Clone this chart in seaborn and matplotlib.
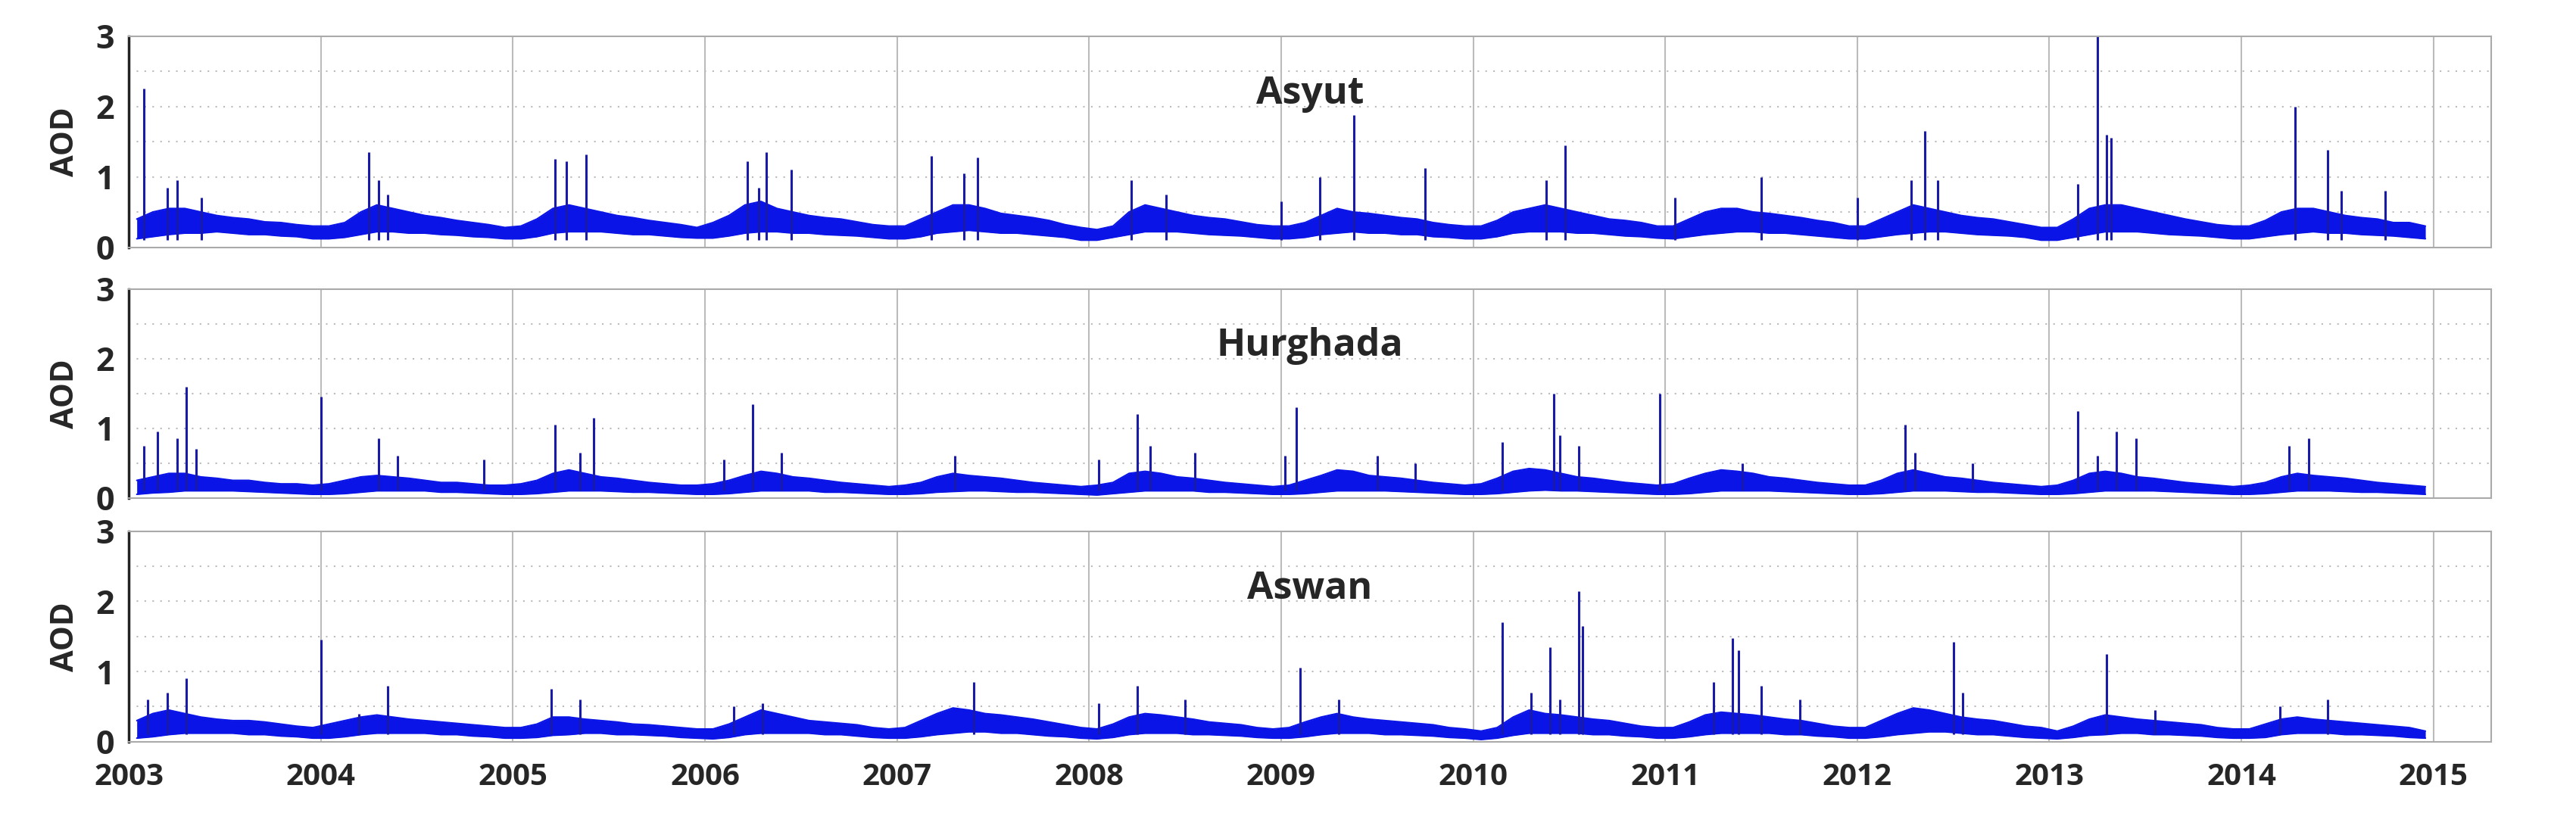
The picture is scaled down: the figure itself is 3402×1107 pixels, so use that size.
import numpy as np
import pandas as pd
import matplotlib.pyplot as plt
import seaborn as sns

sns.set_theme(style="white")
plt.rcParams["font.family"] = ["Open Sans", "DejaVu Sans"]

# ---- monthly typical AOD range (low / high), 2003..2014, 12 values per year ----
asyut_lo = [
    [.12, .15, .18, .20, .20, .22, .20, .18, .18, .16, .15, .12],
    [.12, .14, .18, .22, .22, .20, .20, .18, .17, .15, .14, .12],
    [.12, .15, .20, .22, .22, .22, .20, .18, .18, .16, .14, .13],
    [.13, .16, .20, .22, .22, .20, .20, .18, .17, .16, .14, .12],
    [.12, .15, .20, .22, .24, .22, .20, .20, .18, .16, .14, .10],
    [.10, .14, .18, .22, .22, .22, .20, .18, .17, .16, .14, .12],
    [.12, .14, .18, .20, .22, .20, .20, .18, .18, .15, .14, .12],
    [.12, .15, .20, .22, .22, .22, .20, .20, .18, .16, .15, .13],
    [.12, .15, .18, .20, .22, .22, .20, .20, .18, .16, .14, .12],
    [.12, .15, .18, .20, .22, .22, .20, .18, .17, .16, .14, .10],
    [.10, .14, .18, .22, .22, .22, .20, .18, .17, .16, .14, .12],
    [.12, .15, .18, .20, .22, .20, .20, .18, .17, .16, .14, .12],
]
asyut_hi = [
    [.40, .50, .55, .55, .50, .45, .42, .40, .36, .35, .32, .30],
    [.30, .35, .50, .60, .55, .50, .45, .42, .38, .35, .32, .28],
    [.30, .40, .55, .60, .55, .50, .45, .42, .38, .35, .32, .28],
    [.35, .45, .60, .65, .55, .50, .45, .42, .40, .36, .32, .30],
    [.30, .40, .50, .60, .60, .55, .48, .45, .42, .38, .32, .28],
    [.25, .30, .50, .60, .55, .50, .45, .42, .40, .36, .32, .30],
    [.30, .35, .45, .55, .50, .48, .45, .42, .40, .35, .32, .30],
    [.30, .38, .50, .55, .60, .55, .50, .45, .40, .38, .35, .30],
    [.30, .40, .50, .55, .55, .50, .48, .45, .42, .38, .35, .30],
    [.30, .40, .50, .60, .55, .50, .45, .42, .40, .36, .32, .28],
    [.28, .40, .55, .60, .60, .55, .50, .45, .40, .36, .32, .30],
    [.30, .38, .50, .55, .55, .50, .45, .42, .40, .35, .35, .30],
]
hurg_lo = [
    [.05, .07, .08, .10, .10, .10, .10, .09, .08, .07, .06, .05],
    [.05, .06, .08, .10, .10, .10, .10, .08, .08, .07, .06, .05],
    [.05, .06, .08, .10, .10, .10, .09, .08, .08, .07, .06, .05],
    [.05, .06, .08, .10, .10, .10, .10, .08, .08, .07, .06, .05],
    [.05, .06, .08, .09, .10, .10, .09, .08, .08, .07, .06, .05],
    [.04, .06, .08, .10, .10, .10, .10, .08, .08, .07, .06, .05],
    [.05, .06, .08, .10, .10, .10, .10, .09, .08, .07, .06, .05],
    [.05, .06, .08, .10, .11, .10, .10, .09, .08, .07, .06, .05],
    [.05, .06, .08, .10, .10, .10, .10, .09, .08, .07, .06, .05],
    [.05, .06, .08, .10, .10, .10, .09, .08, .08, .07, .06, .05],
    [.05, .06, .08, .10, .10, .10, .10, .09, .08, .07, .06, .05],
    [.05, .06, .08, .10, .10, .10, .09, .08, .08, .07, .06, .05],
]
hurg_hi = [
    [.25, .30, .35, .35, .30, .28, .25, .25, .22, .20, .20, .18],
    [.20, .25, .30, .32, .30, .28, .25, .22, .22, .20, .18, .18],
    [.20, .25, .35, .40, .35, .30, .28, .25, .22, .20, .18, .18],
    [.20, .25, .32, .38, .35, .30, .28, .25, .22, .20, .18, .16],
    [.18, .22, .30, .35, .32, .30, .28, .25, .22, .20, .18, .16],
    [.18, .22, .35, .38, .35, .30, .28, .25, .22, .20, .18, .16],
    [.18, .25, .32, .40, .38, .32, .30, .28, .25, .22, .20, .18],
    [.20, .28, .38, .42, .40, .35, .30, .28, .25, .22, .20, .18],
    [.20, .28, .35, .40, .38, .35, .30, .28, .25, .22, .20, .18],
    [.18, .25, .35, .40, .35, .30, .28, .25, .22, .20, .18, .16],
    [.18, .25, .35, .38, .35, .30, .28, .25, .22, .20, .18, .16],
    [.18, .22, .30, .35, .32, .30, .28, .25, .22, .20, .18, .16],
]
aswan_lo = [
    [.05, .07, .10, .12, .12, .12, .12, .10, .10, .08, .07, .05],
    [.05, .07, .10, .12, .12, .12, .12, .10, .10, .08, .07, .05],
    [.05, .06, .09, .10, .12, .12, .10, .10, .09, .08, .06, .05],
    [.04, .06, .10, .12, .12, .12, .12, .10, .10, .08, .06, .05],
    [.05, .07, .10, .12, .14, .14, .12, .12, .10, .08, .07, .05],
    [.04, .06, .10, .12, .12, .12, .10, .10, .09, .08, .06, .05],
    [.05, .07, .10, .12, .12, .12, .10, .10, .09, .08, .06, .05],
    [.03, .05, .09, .12, .12, .12, .12, .10, .10, .08, .07, .05],
    [.05, .07, .10, .12, .12, .12, .12, .10, .10, .08, .07, .05],
    [.05, .07, .10, .12, .14, .14, .12, .10, .10, .08, .06, .05],
    [.04, .06, .09, .10, .12, .12, .10, .10, .09, .08, .06, .05],
    [.05, .06, .10, .12, .12, .12, .10, .10, .09, .08, .06, .05],
]
aswan_hi = [
    [.30, .40, .45, .40, .35, .32, .30, .30, .28, .25, .22, .20],
    [.25, .30, .35, .38, .35, .32, .30, .28, .26, .24, .22, .20],
    [.20, .25, .35, .35, .32, .30, .28, .25, .24, .22, .20, .18],
    [.18, .25, .35, .45, .40, .35, .30, .28, .26, .24, .20, .18],
    [.20, .30, .40, .48, .45, .40, .38, .35, .32, .28, .24, .20],
    [.18, .25, .35, .40, .38, .35, .32, .28, .26, .24, .20, .18],
    [.20, .28, .35, .40, .35, .32, .30, .28, .26, .24, .20, .18],
    [.15, .20, .35, .45, .40, .38, .35, .32, .30, .26, .22, .20],
    [.20, .28, .38, .42, .40, .38, .35, .32, .30, .26, .22, .20],
    [.20, .30, .40, .48, .45, .40, .35, .32, .30, .26, .22, .20],
    [.15, .22, .32, .38, .35, .32, .30, .28, .26, .24, .20, .18],
    [.18, .25, .32, .35, .32, .30, .28, .26, .24, .22, .20, .15],
]

# ---- individual high-AOD events: (decimal year, AOD) ----
asyut_spikes = [(2003.08, 2.25), (2003.20, 0.85), (2003.25, 0.95), (2003.38, 0.70),
                (2004.25, 1.35), (2004.30, 0.95), (2004.35, 0.75), (2005.22, 1.25),
                (2005.28, 1.22), (2005.38, 1.32), (2006.22, 1.22), (2006.28, 0.85),
                (2006.32, 1.35), (2006.45, 1.10), (2007.18, 1.30), (2007.35, 1.05),
                (2007.42, 1.28), (2008.22, 0.95), (2008.40, 0.75), (2009.00, 0.65),
                (2009.20, 1.00), (2009.38, 1.88), (2009.75, 1.12), (2010.38, 0.95),
                (2010.48, 1.45), (2011.05, 0.70), (2011.50, 1.00), (2012.00, 0.70),
                (2012.28, 0.95), (2012.35, 1.65), (2012.42, 0.95), (2013.15, 0.90),
                (2013.25, 3.00), (2013.30, 1.60), (2013.32, 1.55), (2014.28, 2.00),
                (2014.45, 1.38), (2014.52, 0.80), (2014.75, 0.80)]
hurg_spikes = [(2003.08, 0.75), (2003.15, 0.95), (2003.25, 0.85), (2003.30, 1.60),
               (2003.35, 0.70), (2004.00, 1.45), (2004.30, 0.85), (2004.40, 0.60),
               (2004.85, 0.55), (2005.22, 1.05), (2005.35, 0.65), (2005.42, 1.15),
               (2006.10, 0.55), (2006.25, 1.35), (2006.40, 0.65), (2007.30, 0.60),
               (2008.05, 0.55), (2008.25, 1.20), (2008.32, 0.75), (2008.55, 0.65),
               (2009.02, 0.60), (2009.08, 1.30), (2009.50, 0.60), (2009.70, 0.50),
               (2010.15, 0.80), (2010.42, 1.50), (2010.45, 0.90), (2010.55, 0.75),
               (2010.97, 1.50), (2011.40, 0.50), (2012.25, 1.05), (2012.30, 0.65),
               (2012.60, 0.50), (2013.15, 1.25), (2013.25, 0.60), (2013.35, 0.95),
               (2013.45, 0.85), (2014.25, 0.75), (2014.35, 0.85)]
aswan_spikes = [(2003.10, 0.60), (2003.20, 0.70), (2003.30, 0.90), (2004.00, 1.45),
                (2004.20, 0.40), (2004.35, 0.80), (2005.20, 0.75), (2005.35, 0.60),
                (2006.15, 0.50), (2006.30, 0.55), (2007.40, 0.85), (2008.05, 0.55),
                (2008.25, 0.80), (2008.50, 0.60), (2009.10, 1.05), (2009.30, 0.60),
                (2010.15, 1.70), (2010.30, 0.70), (2010.40, 1.35), (2010.45, 0.60),
                (2010.55, 2.15), (2010.57, 1.65), (2011.25, 0.85), (2011.35, 1.48),
                (2011.38, 1.30), (2011.50, 0.80), (2011.70, 0.60), (2012.50, 1.42),
                (2012.55, 0.70), (2013.30, 1.25), (2013.55, 0.45), (2014.20, 0.50),
                (2014.45, 0.60)]

stations = ["Asyut", "Hurghada", "Aswan"]
years = list(range(2003, 2016))

panels = [(asyut_lo, asyut_hi, asyut_spikes), (hurg_lo, hurg_hi, hurg_spikes),
          (aswan_lo, aswan_hi, aswan_spikes)]

W, H = 3402, 1107
fig = plt.figure(figsize=(W / 100, H / 100), dpi=100)
rects = [(0.05, 0.705, 0.917, 0.252), (0.05, 0.406, 0.917, 0.249), (0.05, 0.115, 0.917, 0.251)]
blue = "#0a14e6"

for (lo, hi, spikes), name, r in zip(panels, stations, rects):
    ax = fig.add_axes(r)
    t = np.array([2003 + (y * 12 + m + 0.5) / 12 for y in range(12) for m in range(12)])
    d = pd.DataFrame({"t": t, "lo": np.ravel(lo), "hi": np.ravel(hi)})
    ax.fill_between(d["t"], d["lo"], d["hi"], color=blue, lw=0)
    sns.lineplot(data=d, x="t", y="hi", color=blue, lw=1.5, ax=ax)
    sns.lineplot(data=d, x="t", y="lo", color=blue, lw=1.5, ax=ax)
    sp = pd.DataFrame(spikes, columns=["t", "v"])
    ax.vlines(sp["t"], 0.1, sp["v"], color="#1a1aa8", lw=2.2)
    ax.set_xlim(2003, 2015.3)
    ax.set_ylim(0, 3)
    ax.set_xticks(years)
    ax.set_xticks([y + 0.5 for y in years[:-1]], minor=True)
    ax.set_yticks([0, 1, 2, 3])
    for y in years:
        ax.axvline(y, color="#bbbbbb", lw=1.5, zorder=0)
    for v in [0.5, 1, 1.5, 2, 2.5]:
        ax.axhline(v, color="#bbbbbb", lw=1.5, ls=(0, (1, 4)), zorder=0)
    ax.tick_params(axis="y", labelsize=31, width=0, length=0, pad=14)
    for lab in ax.get_yticklabels():
        lab.set_fontweight("bold")
    ax.tick_params(axis="x", which="both", direction="in", length=4, color="#555555")
    if name != "Aswan":
        ax.set_xticklabels([])
    else:
        ax.set_xticklabels([str(y) for y in years], fontsize=29, fontweight="bold")
        ax.tick_params(axis="x", pad=20)
    ax.set_xlabel("")
    ax.set_ylabel("AOD", fontsize=30, fontweight="bold", labelpad=14)
    ax.text(0.5, 0.68, name, transform=ax.transAxes, ha="center",
            fontsize=36, fontweight="bold")
    for s in ax.spines.values():
        s.set_color("#aaaaaa")
        s.set_linewidth(1.5)
    ax.spines["left"].set_color("#222222")
    ax.spines["left"].set_linewidth(2.5)

fig.savefig("out.png", dpi=100, facecolor="white")
